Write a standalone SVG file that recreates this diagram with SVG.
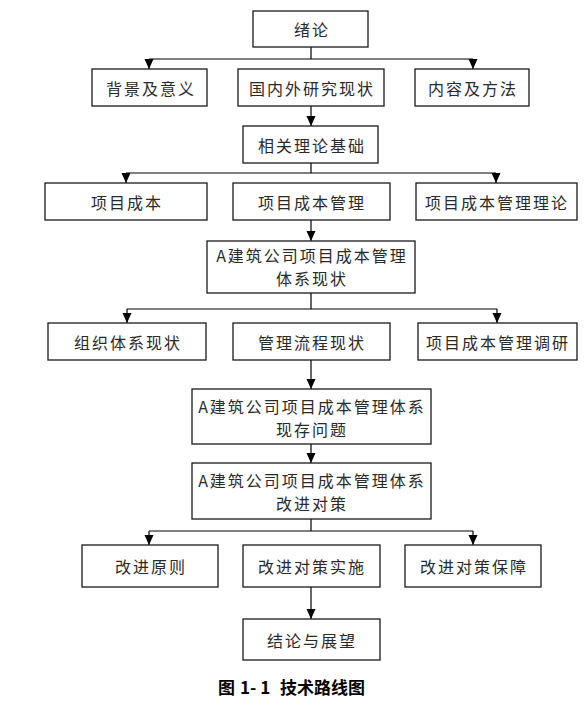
<svg xmlns="http://www.w3.org/2000/svg" width="586" height="714" viewBox="0 0 586 714">
<defs>
<marker id="arr" viewBox="0 0 10 10" refX="10" refY="5" markerWidth="10" markerHeight="10" markerUnits="userSpaceOnUse" orient="auto">
<path d="M0,0.5 L10,5 L0,9.5 z" fill="#000"/>
</marker>
<style>
.box{fill:#fff;stroke:#1a1a1a;stroke-width:1.3}
.t{font-family:"Noto Sans CJK SC","Noto Sans",sans-serif;font-size:16px;fill:#2a2a2a;text-anchor:middle;dominant-baseline:central;letter-spacing:2px}
.c{fill:none;stroke:#000;stroke-width:1.2}
.ca{fill:none;stroke:#000;stroke-width:1.2;marker-end:url(#arr)}
.cap{font-family:"Noto Sans CJK SC","Noto Sans",sans-serif;font-size:17px;font-weight:bold;fill:#000}
</style>
</defs>
<rect width="586" height="714" fill="#fff"/>
<g id="connectors">
<path class="c" d="M311,47 V59 M149,59 H473"/>
<path class="ca" d="M149,59 V69"/>
<path class="ca" d="M473,59 V69"/>
<path class="ca" d="M311,106 V126"/>
<path class="c" d="M311,163 V173 M126,173 H496"/>
<path class="ca" d="M126,173 V183"/>
<path class="ca" d="M496,173 V183"/>
<path class="ca" d="M311,220 V241"/>
<path class="c" d="M311,293 V309 M127,309 H497"/>
<path class="ca" d="M127,309 V323"/>
<path class="ca" d="M497,309 V323"/>
<path class="ca" d="M311,360 V389"/>
<path class="ca" d="M311,444 V463"/>
<path class="c" d="M311,519 V531 M149,531 H473"/>
<path class="ca" d="M149,531 V545"/>
<path class="ca" d="M473,531 V545"/>
<path class="ca" d="M311,587 V619"/>
</g>
<g id="n1"><rect class="box" x="253" y="11" width="115" height="36"/><text class="t" x="312" y="29">绪论</text></g>
<g id="n2"><rect class="box" x="92" y="69" width="115" height="37"/><text class="t" x="151" y="87.5">背景及意义</text></g>
<g id="n3"><rect class="box" x="238" y="69" width="146" height="37"/><text class="t" x="312" y="87.5">国内外研究现状</text></g>
<g id="n4"><rect class="box" x="415" y="69" width="114" height="37"/><text class="t" x="473" y="87.5">内容及方法</text></g>
<g id="n5"><rect class="box" x="243" y="126" width="135" height="37"/><text class="t" x="312" y="144.5">相关理论基础</text></g>
<g id="n6"><rect class="box" x="45" y="183" width="162" height="37"/><text class="t" x="127" y="201.5">项目成本</text></g>
<g id="n7"><rect class="box" x="233" y="183" width="157" height="37"/><text class="t" x="312" y="201.5">项目成本管理</text></g>
<g id="n8"><rect class="box" x="416" y="183" width="161" height="37"/><text class="t" x="497" y="201.5">项目成本管理理论</text></g>
<g id="n9"><rect class="box" x="207" y="241" width="208" height="52"/><text class="t" x="312" y="255">A建筑公司项目成本管理</text><text class="t" x="312" y="278">体系现状</text></g>
<g id="n10"><rect class="box" x="48" y="323" width="158" height="37"/><text class="t" x="128" y="341.5">组织体系现状</text></g>
<g id="n11"><rect class="box" x="233" y="323" width="157" height="37"/><text class="t" x="312" y="341.5">管理流程现状</text></g>
<g id="n12"><rect class="box" x="418" y="323" width="159" height="37"/><text class="t" x="498" y="341.5">项目成本管理调研</text></g>
<g id="n13"><rect class="box" x="192" y="389" width="239" height="55"/><text class="t" x="312" y="405.5">A建筑公司项目成本管理体系</text><text class="t" x="312" y="428.5">现存问题</text></g>
<g id="n14"><rect class="box" x="192" y="463" width="239" height="56"/><text class="t" x="312" y="479.5">A建筑公司项目成本管理体系</text><text class="t" x="312" y="502.5">改进对策</text></g>
<g id="n15"><rect class="box" x="82" y="545" width="136" height="42"/><text class="t" x="151" y="566">改进原则</text></g>
<g id="n16"><rect class="box" x="243" y="545" width="137" height="42"/><text class="t" x="312" y="566">改进对策实施</text></g>
<g id="n17"><rect class="box" x="405" y="545" width="136" height="42"/><text class="t" x="474" y="566">改进对策保障</text></g>
<g id="n18"><rect class="box" x="243" y="619" width="137" height="41"/><text class="t" x="312" y="639.5">结论与展望</text></g>
<text class="cap" y="694"><tspan x="218">图</tspan><tspan x="240">1- 1</tspan><tspan x="280">技术路线图</tspan></text>
</svg>
